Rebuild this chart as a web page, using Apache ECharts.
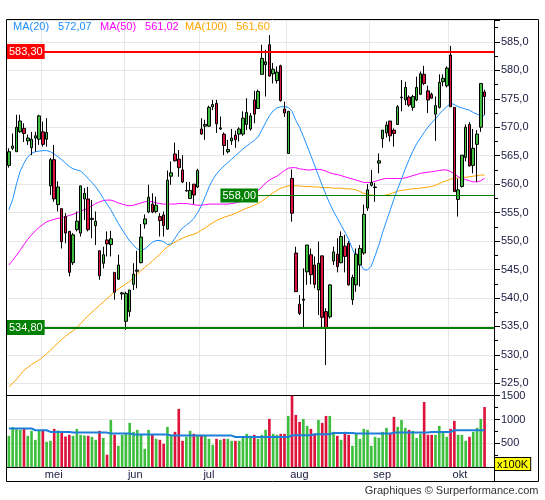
<!DOCTYPE html>
<html><head><meta charset="utf-8">
<script src="https://cdn.jsdelivr.net/npm/echarts@6/dist/echarts.min.js"></script>
<style>html,body{margin:0;padding:0;background:#fff}#c{width:545px;height:500px}</style>
</head><body><div id="c"></div>
<script>
// ---------- data ----------
const open = [563.3,566.3,565.7,569.2,569.8,567.6,566.4,568.1,567.9,569.2,
567.9,559.7,564.3,556.4,555.7,554.3,551.7,546.2,552.0,551.4,
557.4,557.4,553.8,552.7,548.3,546.1,550.2,549.4,544.5,543.3,
540.7,535.9,537.6,542.4,544.7,546.2,553.0,555.1,556.5,555.2,
554.3,554.6,552.1,561.4,565.3,564.4,562.5,558.8,557.5,560.0,
559.5,569.7,570.2,570.2,573.6,574.2,569.7,568.8,565.7,567.6,
568.6,568.8,568.8,570.5,569.7,574.8,573.3,579.3,581.0,584.5,
579.4,578.2,580.8,573.2,565.4,561.0,547.9,538.9,539.6,544.6,
547.6,545.8,541.4,547.4,537.6,536.7,546.5,547.7,546.2,549.1,
549.6,539.7,542.3,545.8,547.9,555.8,559.8,559.4,563.7,568.0,
569.0,571.1,569.5,570.5,575.2,574.8,575.3,573.5,574.8,575.8,
579.3,576.4,575.8,572.3,573.5,578.0,577.3,582.7,573.5,557.3,
559.6,564.7,570.5,563.3,567.0,570.0,576.2];
const close = [565.7,566.7,570.0,571.1,568.9,568.1,567.9,568.5,572.0,567.0,
569.1,564.3,557.4,559.5,549.9,551.4,544.5,551.1,553.5,559.7,
558.4,552.0,554.0,553.5,543.9,547.6,549.5,550.4,541.0,545.8,
540.9,540.8,541.4,544.2,544.9,550.7,553.9,557.7,555.1,556.3,
553.6,552.7,560.7,562.0,564.1,562.9,560.4,558.9,558.9,558.1,
562.4,568.8,570.5,573.5,574.0,570.6,569.9,566.8,566.1,568.1,
567.8,569.7,571.6,572.6,572.0,572.3,576.3,582.1,581.5,579.0,
580.2,579.7,574.7,572.5,572.8,554.9,541.1,537.3,539.8,549.3,
544.1,542.4,546.1,536.6,534.8,542.3,548.1,545.5,550.8,547.3,
542.3,543.6,547.7,548.7,554.7,559.0,560.3,559.5,564.1,569.5,
570.4,568.5,568.9,573.6,575.3,577.0,573.9,575.4,577.0,579.4,
577.7,574.8,575.1,573.8,577.9,578.6,580.4,573.6,558.7,559.0,
565.1,570.0,563.2,566.3,568.8,577.7,575.4];
const high = [566.3,568.9,572.2,572.2,570.7,568.7,569.2,569.2,572.2,571.0,
571.6,564.6,566.9,560.5,555.8,554.9,551.8,551.4,555.2,559.7,
559.3,559.5,557.2,555.2,548.3,549.0,551.7,551.8,544.5,547.6,
541.1,541.1,541.4,546.1,548.3,553.0,554.7,559.9,558.4,557.8,
554.9,555.2,562.4,564.0,567.3,566.0,565.1,560.4,560.4,560.0,
562.7,571.6,571.3,573.8,574.8,574.8,571.9,569.1,567.8,569.7,
569.4,570.0,572.8,575.1,572.5,576.4,576.6,584.5,583.6,586.2,
581.3,580.7,581.0,574.5,572.8,562.6,549.0,540.5,545.2,549.3,
548.7,547.3,549.9,547.4,538.2,542.4,549.0,550.5,551.7,551.1,
550.0,544.1,548.7,549.3,556.4,560.0,562.5,560.2,565.4,569.5,
571.0,571.1,569.8,573.9,578.3,578.0,575.6,575.7,578.9,579.8,
580.8,577.3,576.1,575.4,579.3,579.3,580.7,584.3,573.5,561.0,
565.1,570.5,570.9,569.7,569.5,577.7,576.6];
const low = [562.9,566.0,565.7,569.0,567.4,566.9,565.1,565.7,566.9,566.6,
566.6,558.1,556.9,555.2,548.7,549.6,543.8,545.8,551.7,550.8,
553.7,551.7,550.5,549.3,543.2,545.2,547.3,547.3,539.7,543.2,
539.7,534.4,536.7,541.4,541.7,546.1,552.2,554.9,554.9,554.9,
550.8,550.8,552.0,559.9,564.0,561.3,560.2,558.7,557.5,556.5,
559.3,568.7,567.8,570.1,573.0,569.0,569.5,565.1,565.4,566.9,
566.4,567.5,568.5,569.5,569.4,570.7,573.2,579.3,575.4,578.9,
577.7,577.7,574.5,571.8,565.4,553.4,541.1,537.0,534.8,542.3,
542.4,541.7,537.0,534.7,528.2,536.4,545.8,544.5,546.1,544.5,
542.2,538.8,541.1,542.0,547.6,555.3,559.6,556.9,561.9,566.4,
568.2,567.5,566.6,570.4,572.8,573.9,573.6,572.9,574.6,575.7,
577.4,572.5,575.1,567.6,573.3,577.2,577.0,573.6,558.7,554.3,
559.4,564.0,563.1,561.9,560.4,569.2,572.2];
// volume in units of 100K
const volume = [656,838,796,782,810,656,761,572,761,782,
530,551,803,768,726,642,677,656,803,677,
663,656,635,572,761,614,258,991,677,447,
677,712,928,740,782,677,384,782,677,593,
572,489,845,677,740,1222,551,635,761,698,
677,677,656,593,468,593,572,593,593,551,
551,551,614,698,656,677,593,677,782,1012,
698,677,698,698,1075,1500,1096,949,1012,866,
803,698,991,928,1075,1075,740,656,572,740,
677,447,698,593,803,782,447,635,614,740,
824,698,1054,845,991,824,782,761,614,698,
1368,677,677,677,866,719,635,803,970,677,
677,551,635,740,824,1012,1263];
const volumeAvg = [810,810,810,810,810,810,810,774,774,774,
774,738,738,738,738,738,738,724,724,724,
724,724,724,724,724,724,724,703,703,703,
703,703,703,682,682,682,682,682,682,682,
682,682,682,661,661,661,661,661,661,661,
661,661,661,661,661,661,661,661,661,661,
632,632,632,632,632,632,632,632,632,632,
632,632,632,632,632,667,667,667,667,667,
667,689,689,689,689,689,717,717,717,717,
717,717,703,703,703,703,703,703,703,703,
703,703,724,724,724,724,724,724,724,724,
724,724,738,738,738,738,738,738,774,774,
774,774,774,774,774,774,774];
const ma20 = [555.5,557.3,560.0,562.3,563.7,564.8,565.4,565.7,565.8,565.9,
565.9,565.7,565.3,564.8,564.3,563.7,563.1,562.7,562.5,562.3,
561.7,561.0,560.3,559.5,558.6,557.5,556.5,555.5,554.3,553.1,
552.0,551.0,550.0,549.3,548.6,548.4,548.6,549.2,549.8,550.1,
550.1,549.9,549.4,549.5,550.5,551.5,552.3,552.8,553.3,554.0,
555.0,556.2,557.8,559.5,560.8,561.8,562.6,563.2,563.8,564.4,
565.0,565.6,566.2,566.7,567.2,567.7,568.3,569.5,570.8,572.0,
572.9,573.4,573.6,573.6,573.5,572.8,571.2,570.0,568.4,566.7,
565.0,563.3,561.5,559.8,558.1,556.6,555.2,554.0,552.8,551.6,
550.3,548.6,547.2,546.0,545.0,544.9,545.6,547.4,549.3,551.5,
553.5,555.4,557.4,559.2,560.9,562.7,564.3,565.8,567.1,568.1,
569.1,570.0,570.8,571.5,572.3,573.0,573.6,574.2,574.0,573.6,
573.4,573.2,573.0,572.6,572.3,572.0,572.07];
const ma50 = [545.8,546.6,547.5,548.4,549.4,550.3,551.1,551.8,552.4,552.9,
553.4,553.6,553.8,554.0,554.1,554.3,554.5,554.7,555.0,555.3,
555.5,555.8,556.2,556.6,556.9,557.1,557.2,557.2,557.0,556.7,
556.5,556.3,556.2,556.3,556.5,556.7,556.9,557.0,556.9,556.7,
556.6,556.5,556.5,556.5,556.5,556.6,556.6,556.6,556.5,556.4,
556.3,556.3,556.4,556.5,556.5,556.5,556.5,556.5,556.5,556.6,
556.7,556.9,557.2,557.5,557.8,558.3,558.9,559.5,560.2,560.7,
561.1,561.4,561.9,562.4,562.8,562.9,562.9,562.7,562.6,562.5,
562.5,562.6,562.6,562.5,562.3,562.0,561.8,561.7,561.5,561.3,
561.1,560.9,560.7,560.5,560.3,560.3,560.3,560.5,560.7,560.9,
561.0,561.0,561.0,561.0,561.0,561.1,561.3,561.5,561.7,561.9,
562.0,562.1,562.2,562.3,562.4,562.5,562.5,562.2,561.8,561.3,
561.0,560.8,560.6,560.4,560.4,560.6,561.02];
const ma100 = [524.4,525.0,525.7,526.5,527.3,527.8,528.3,528.7,529.1,529.6,
530.2,530.8,531.5,532.1,532.7,533.3,533.8,534.2,534.8,535.5,
536.2,536.9,537.5,538.1,538.7,539.3,539.9,540.5,541.1,541.6,
542.0,542.5,542.9,543.6,544.2,544.8,545.4,545.9,546.5,547.1,
547.7,548.4,549.0,549.4,549.8,550.2,550.5,550.8,551.0,551.2,
551.5,551.9,552.3,552.8,553.2,553.6,553.9,554.2,554.4,554.6,
554.9,555.2,555.5,555.8,556.0,556.3,556.6,557.0,557.5,558.0,
558.5,558.9,559.3,559.5,559.7,559.8,559.7,559.7,559.6,559.6,
559.6,559.5,559.5,559.4,559.4,559.4,559.3,559.3,559.3,559.2,
559.2,559.1,559.0,558.7,558.4,558.2,558.1,558.0,558.0,558.0,
558.1,558.3,558.5,558.8,558.9,559.0,559.1,559.2,559.2,559.3,
559.4,559.5,559.6,559.8,560.1,560.4,560.6,560.9,561.0,561.1,
561.2,561.2,561.3,561.4,561.5,561.6,561.60];
const monthNames = ['mei','jun','jul','aug','sep','okt'];
const monthStartIndex = [9,31,51,74,96,117];
const levelHigh = 583.30;
const levelMid = 558.00;
const levelMidStartIndex = 66;
const levelLow = 534.80;

// ---------- styling / layout ----------
const FONT = "'Liberation Sans', Arial, sans-serif";
const GREEN = '#3fbf3f', RED = '#dc143c';
const C20 = '#1e90ff', C50 = '#ff00ff', C100 = '#ffa500', CVOL = '#1e7fd8';
const GL = 7, GR = 494, GT = 20, GPB = 395, GVB = 467, FB = 481.5, FR = 538.5;
const GRID_COLOR = '#e6e6e6';
const LEGEND_LEFT = [8, 95, 180];

const categories = open.map((_, i) => String(i));
const candles = open.map((o, i) => [o, close[i], low[i], high[i]]);
const isUp = i => close[i] > open[i] || (close[i] === open[i] && (i === 0 || close[i] >= close[i - 1]));
const volData = volume.map((v, i) => ({ value: v, itemStyle: { color: isUp(i) ? GREEN : RED } }));
const comma = (v, d) => v.toFixed(d).replace('.', ',');
const maSeries = [
  { name: 'MA(20)', values: ma20, color: C20 },
  { name: 'MA(50)', values: ma50, color: C50 },
  { name: 'MA(100)', values: ma100, color: C100 }
];
const isMonthStart = idx => monthStartIndex.indexOf(idx) >= 0;

const xCommon = {
  type: 'category', data: categories, boundaryGap: true, max: categories.length + 1,
  axisTick: { show: false },
  axisLine: { show: true, lineStyle: { color: '#000', width: 1 } },
  splitLine: { show: true, interval: (i) => isMonthStart(i), lineStyle: { color: GRID_COLOR, width: 1 } }
};
const yCommon = {
  position: 'right', scale: true,
  axisLine: { show: true, lineStyle: { color: '#000', width: 1 } },
  axisTick: { show: true, inside: false, length: 6, lineStyle: { color: '#000' } },
  minorTick: { show: true, splitNumber: 2, length: 4, lineStyle: { color: '#000' } },
  splitLine: { show: true, lineStyle: { color: GRID_COLOR, width: 1 } },
  axisLabel: { show: true, margin: 7, color: '#1a1a40', fontSize: 11, fontFamily: FONT, showMinLabel: false, showMaxLabel: false }
};
const levelLabel = (bg) => ({
  show: true, position: 'insideStartTop', distance: [0, -7.5],
  color: '#fff', backgroundColor: bg, padding: [2, 2, 1, 2], fontSize: 11, fontFamily: FONT, lineHeight: 12,
  formatter: (p) => comma(p.value, 2)
});

const option = {
  animation: false,
  textStyle: { fontFamily: FONT },
  grid: [
    { left: GL, top: GT, width: GR - GL, height: GPB - GT },
    { left: GL, top: GPB, width: GR - GL, height: GVB - GPB }
  ],
  legend: maSeries.map((m, k) => ({
    left: LEGEND_LEFT[k], top: 21, padding: 0, icon: 'none', itemWidth: 0, itemHeight: 10, selectedMode: false,
    textStyle: { fontSize: 11, fontFamily: FONT, color: m.color,
      rich: { n: { color: m.color, fontSize: 11, fontFamily: FONT }, v: { color: m.color, fontSize: 11, fontFamily: FONT, padding: [0, 0, 0, 9] } } },
    data: [{ name: m.name, textStyle: { color: m.color } }],
    formatter: (name) => '{n|' + name + '}{v|' + comma(m.values[m.values.length - 1], 2) + '}'
  })),
  xAxis: [
    Object.assign({}, xCommon, { gridIndex: 0, axisLabel: { show: false } }),
    Object.assign({}, xCommon, { gridIndex: 1, axisLabel: {
      show: true, interval: 0, margin: 2, align: 'left', padding: [0, 0, 0, 2],
      color: '#1a1a40', fontSize: 11, fontFamily: FONT,
      formatter: (v, idx) => { const k = monthStartIndex.indexOf(idx); return k >= 0 ? monthNames[k] : ''; }
    } })
  ],
  yAxis: [
    Object.assign({}, yCommon, { gridIndex: 0, min: 522.95, max: 588.85, splitNumber: 13, minInterval: 5, maxInterval: 5,
      axisLabel: Object.assign({}, yCommon.axisLabel, { formatter: (v) => comma(v, 1) }) }),
    Object.assign({}, yCommon, { gridIndex: 1, min: 0, max: 1515, splitNumber: 3, minInterval: 500, maxInterval: 500,
      axisLabel: Object.assign({}, yCommon.axisLabel, { formatter: (v) => String(v) }) })
  ],
  series: [
    ...maSeries.slice().reverse().map(m => ({
      name: m.name, type: 'line', xAxisIndex: 0, yAxisIndex: 0, data: m.values, symbol: 'none', z: 2,
      lineStyle: { color: m.color, width: 1 }, itemStyle: { color: m.color }
    })),
    { name: 'price', type: 'candlestick', xAxisIndex: 0, yAxisIndex: 0, data: candles, barWidth: 3, z: 3,
      itemStyle: { color: GREEN, color0: RED, borderColor: '#000', borderColor0: '#000', borderColorDoji: '#000', borderWidth: 1 },
      markLine: {
        silent: true, animation: false, symbol: ['none', 'none'],
        data: [
          { yAxis: levelHigh, lineStyle: { color: '#ff0000', width: 2, type: 'solid' }, label: levelLabel('#ff0000') },
          { yAxis: levelLow, lineStyle: { color: '#008000', width: 2, type: 'solid' }, label: levelLabel('#008000') },
          [
            { coord: [levelMidStartIndex, levelMid], lineStyle: { color: '#008000', width: 1, type: 'solid' },
              label: { show: true, position: 'start', distance: 0, color: '#fff', backgroundColor: '#008000',
                padding: [1, 2, 1, 2], fontSize: 11, fontFamily: FONT, lineHeight: 12, formatter: () => comma(levelMid, 2) } },
            { coord: [open.length - 1, levelMid], x: GR }
          ]
        ]
      }
    },
    { name: 'volume', type: 'bar', xAxisIndex: 1, yAxisIndex: 1, data: volData, barWidth: '70%', z: 2 },
    { name: 'volAvg', type: 'line', xAxisIndex: 1, yAxisIndex: 1, data: volumeAvg, step: 'middle', symbol: 'none', z: 3,
      lineStyle: { color: CVOL, width: 2 } }
  ],
  graphic: [
    { type: 'rect', shape: { x: 6.5, y: 19.5, width: FR - 6.5, height: FB - 19.5 }, style: { fill: 'none', stroke: '#000', lineWidth: 1 }, z: 100 },
    { type: 'line', shape: { x1: GR + 0.5, y1: GVB, x2: GR + 0.5, y2: FB }, style: { stroke: '#000', lineWidth: 1 }, z: 100 },
    { type: 'text', x: 495, y: 458, z: 101, style: { text: 'x100K', fill: '#000', font: '11px ' + FONT,
        backgroundColor: '#ffff00', borderColor: '#000', borderWidth: 1, padding: [1, 2, 0, 2] } },
    { type: 'text', right: 545 - FR, top: 485, style: { text: 'Graphiques \u00a9 Surperformance.com', fill: '#333', font: '11px ' + FONT } }
  ]
};
echarts.init(document.getElementById('c'), null, { renderer: 'canvas' }).setOption(option);
</script>
</body></html>
